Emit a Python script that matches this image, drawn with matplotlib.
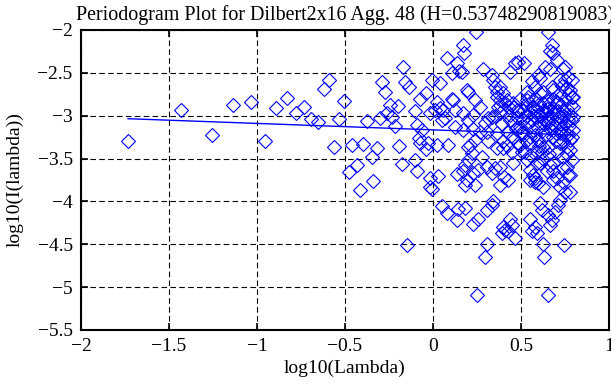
import matplotlib
matplotlib.use('Agg')
import matplotlib.pyplot as plt

# periodogram points: log10(lambda), log10(I(lambda))
log_lambda = [
    -1.733, -1.432, -1.256, -1.135, -1.036, -0.957, -0.891, -0.832, -0.780, -0.734,
    -0.694, -0.655, -0.621, -0.589, -0.561, -0.534, -0.504, -0.477, -0.459, -0.434,
    -0.415, -0.396, -0.377, -0.348, -0.339, -0.320, -0.301, -0.292, -0.273, -0.263,
    -0.244, -0.235, -0.216, -0.197, -0.193, -0.178, -0.169, -0.159, -0.146, -0.134,
    -0.102, -0.102, -0.093, -0.093, -0.082, -0.074, -0.074, -0.064, -0.040, -0.040,
    -0.027, -0.017, -0.017, -0.017, -0.007, -0.007, 0.011, 0.021, 0.021, 0.030,
    0.040, 0.040, 0.049, 0.049, 0.059, 0.068, 0.078, 0.078, 0.087, 0.106,
    0.106, 0.116, 0.125, 0.125, 0.135, 0.135, 0.135, 0.144, 0.150, 0.163,
    0.172, 0.172, 0.172, 0.172, 0.176, 0.182, 0.182, 0.182, 0.191, 0.191,
    0.200, 0.200, 0.200, 0.200, 0.210, 0.220, 0.229, 0.229, 0.229, 0.229,
    0.239, 0.239, 0.239, 0.243, 0.248, 0.258, 0.258, 0.267, 0.267, 0.277,
    0.282, 0.295, 0.295, 0.305, 0.305, 0.305, 0.305, 0.314, 0.314, 0.333,
    0.333, 0.333, 0.333, 0.343, 0.343, 0.352, 0.352, 0.362, 0.362, 0.362,
    0.362, 0.381, 0.381, 0.381, 0.381, 0.381, 0.381, 0.390, 0.400, 0.400,
    0.400, 0.400, 0.403, 0.409, 0.409, 0.419, 0.419, 0.428, 0.428, 0.438,
    0.438, 0.438, 0.447, 0.447, 0.456, 0.456, 0.456, 0.456, 0.456, 0.466,
    0.466, 0.476, 0.476, 0.485, 0.485, 0.494, 0.494, 0.494, 0.504, 0.513,
    0.513, 0.513, 0.517, 0.523, 0.532, 0.532, 0.532, 0.541, 0.551, 0.551,
    0.551, 0.551, 0.551, 0.551, 0.551, 0.561, 0.561, 0.570, 0.570, 0.570,
    0.570, 0.580, 0.580, 0.580, 0.580, 0.589, 0.589, 0.589, 0.589, 0.599,
    0.599, 0.599, 0.599, 0.608, 0.608, 0.608, 0.608, 0.608, 0.617, 0.627,
    0.627, 0.627, 0.627, 0.627, 0.627, 0.627, 0.632, 0.636, 0.636, 0.646,
    0.646, 0.652, 0.652, 0.655, 0.655, 0.655, 0.665, 0.665, 0.665, 0.665,
    0.674, 0.674, 0.674, 0.684, 0.684, 0.684, 0.684, 0.684, 0.684, 0.684,
    0.693, 0.703, 0.703, 0.703, 0.703, 0.703, 0.703, 0.712, 0.722, 0.722,
    0.722, 0.722, 0.722, 0.722, 0.741, 0.741, 0.741, 0.741, 0.741, 0.744,
    0.750, 0.750, 0.750, 0.750, 0.760, 0.760, 0.760, 0.769, 0.769, 0.769,
    0.778, 0.778, 0.778, 0.778, 0.778, 0.788, 0.788, 0.788, 0.788, 0.797,
    0.797, 0.797,
]
log_I = [
    -3.29, -2.93, -3.22, -2.87, -2.84, -3.30, -2.91, -2.79, -2.97, -2.90,
    -3.04, -3.07, -2.69, -2.58, -3.36, -3.04, -2.825, -3.66, -3.34, -3.58,
    -3.87, -3.33, -3.06, -3.48, -3.76, -3.38, -3.03, -2.61, -2.72, -2.97,
    -2.875, -3.01, -3.12, -2.89, -3.35, -3.56, -2.43, -2.61, -4.51, -2.67,
    -2.95, -3.52, -3.11, -3.64, -3.26, -2.80, -3.32, -3.17, -2.74, -3.39,
    -3.32, -2.97, -3.73, -3.83, -2.58, -3.85, -2.93, -2.84, -3.34, -3.70,
    -2.62, -2.91, -3.05, -4.05, -2.93, -3.03, -2.33, -4.14, -3.34, -2.505,
    -2.80, -2.82, -2.93, -3.13, -2.39, -3.68, -4.22, -4.09, -2.475, -2.49,
    -2.175, -2.97, -3.17, -3.65, -2.27, -3.81, -3.575, -4.08, -2.70, -3.75,
    -2.72, -3.05, -3.36, -3.52, -3.34, -3.44, -2.99, -3.15, -3.67, -4.26,
    -2.82, -3.28, -3.81, -2.02, -5.09, -3.63, -4.20, -2.895, -3.19, -3.48,
    -2.45, -3.09, -4.645, -3.19, -3.595, -4.10, -4.50, -3.03, -3.30, -2.525,
    -3.01, -3.67, -4.04, -2.58, -4.00, -2.66, -3.61, -2.72, -2.78, -3.205,
    -3.38, -2.66, -2.82, -2.875, -2.97, -3.595, -3.81, -4.365, -2.74, -3.30,
    -3.38, -4.295, -3.71, -2.855, -4.33, -2.82, -3.19, -3.75, -4.35, -2.49,
    -2.99, -4.20, -3.42, -4.275, -2.855, -2.895, -3.09, -3.245, -3.555, -2.38,
    -4.43, -2.93, -3.01, -2.37, -3.32, -2.80, -3.13, -3.34, -3.42, -2.95,
    -3.05, -3.205, -2.39, -3.42, -2.72, -2.82, -3.52, -3.09, -2.97, -3.245,
    -3.32, -3.46, -3.63, -3.75, -4.20, -2.60, -4.35, -2.82, -2.895, -3.17,
    -3.69, -2.66, -3.73, -3.77, -4.295, -2.93, -3.42, -3.555, -4.37, -2.525,
    -2.99, -3.28, -3.79, -2.56, -2.74, -3.09, -3.555, -4.02, -4.10, -2.72,
    -2.855, -2.95, -3.36, -3.50, -3.83, -4.50, -4.645, -2.43, -3.225, -2.82,
    -3.65, -2.02, -5.09, -3.07, -3.36, -4.16, -2.25, -2.45, -3.575, -4.275,
    -2.175, -2.66, -4.22, -2.27, -2.70, -2.97, -3.245, -3.555, -3.65, -3.75,
    -4.12, -2.35, -2.84, -2.855, -3.03, -3.42, -3.73, -4.04, -2.58, -3.01,
    -3.205, -3.32, -3.83, -3.98, -2.45, -2.93, -3.48, -3.61, -3.77, -4.51,
    -2.43, -2.58, -3.09, -3.89, -2.68, -3.36, -3.595, -2.545, -3.225, -3.69,
    -2.70, -2.99, -3.28, -3.69, -3.89, -2.58, -2.78, -3.05, -3.52, -2.78,
    -2.895, -3.17,
]

# heavily overlapped points in the dense high-frequency cluster
core_lambda = [
    0.520, 0.530, 0.540, 0.560, 0.560, 0.575, 0.585, 0.595, 0.605, 0.615,
    0.620, 0.630, 0.640, 0.645, 0.650, 0.660, 0.665, 0.670, 0.675, 0.680,
    0.690, 0.695, 0.700, 0.710, 0.715, 0.720, 0.730, 0.730, 0.735, 0.745,
    0.750, 0.755, 0.760, 0.765, 0.770, 0.775, 0.785, 0.790, 0.795, 0.780,
    0.760, 0.740, 0.700, 0.660, 0.620, 0.600, 0.580, 0.530, 0.500, 0.490,
    0.470, 0.440, 0.430, 0.420, 0.390, 0.370, 0.350,
]
core_I = [
    -2.88, -3.00, -2.78, -2.90, -3.05, -3.00, -2.80, -3.14, -2.86, -3.00,
    -3.18, -3.10, -2.96, -3.03, -2.92, -2.86, -3.15, -3.00, -3.10, -2.80,
    -2.92, -3.12, -3.20, -2.95, -2.75, -3.10, -2.88, -3.15, -2.65, -3.00,
    -2.80, -3.20, -2.92, -3.05, -2.75, -3.12, -2.88, -3.25, -3.02, -3.40,
    -3.45, -3.30, -3.30, -3.45, -3.42, -3.35, -3.22, -3.30, -3.20, -2.95,
    -3.15, -3.05, -2.90, -3.35, -3.10, -2.90, -3.00,
]

# least squares fit line end points
fit_x = [-1.733, 0.797]
fit_y = [-3.035, -3.225]

x_ticks = [-2, -1.5, -1, -0.5, 0, 0.5, 1]
y_ticks = [-5.5, -5, -4.5, -4, -3.5, -3, -2.5, -2]

plt.rcParams['font.family'] = ['Liberation Serif', 'DejaVu Serif']
plt.rcParams['font.size'] = 14

fig = plt.figure(figsize=(6.11, 3.85), dpi=100)
ax = fig.add_axes([0.1326, 0.1429, 0.8641, 0.7792])

ax.plot(log_lambda + core_lambda, log_I + core_I, linestyle='none', marker='D',
        markersize=6.8, markerfacecolor='none', markeredgecolor='blue',
        markeredgewidth=0.8)
ax.plot(fit_x, fit_y, color='blue', linewidth=1)

ax.set_xlim(-2, 1)
ax.set_ylim(-5.5, -2)
ax.set_xticks(x_ticks)
ax.set_yticks(y_ticks)
ax.set_xticklabels([f'{t:g}'.replace('-', '\u2212') for t in x_ticks])
ax.set_yticklabels([f'{t:g}'.replace('-', '\u2212') for t in y_ticks])
ax.grid(True, color='black', linestyle=(0, (5, 3)), linewidth=0.8)
ax.tick_params(direction='in', length=5, width=1.2, top=True, right=True, pad=6)
for s in ax.spines.values():
    s.set_linewidth(1.5)

ax.set_xlabel('log10(Lambda)', labelpad=3)
ax.set_ylabel('log10(I(lambda))', labelpad=10)
ax.set_title('Periodogram Plot for Dilbert2x16 Agg. 48 (H=0.53748290819083)',
             fontsize=14.4, pad=7)

fig.savefig('out.png', dpi=100)
